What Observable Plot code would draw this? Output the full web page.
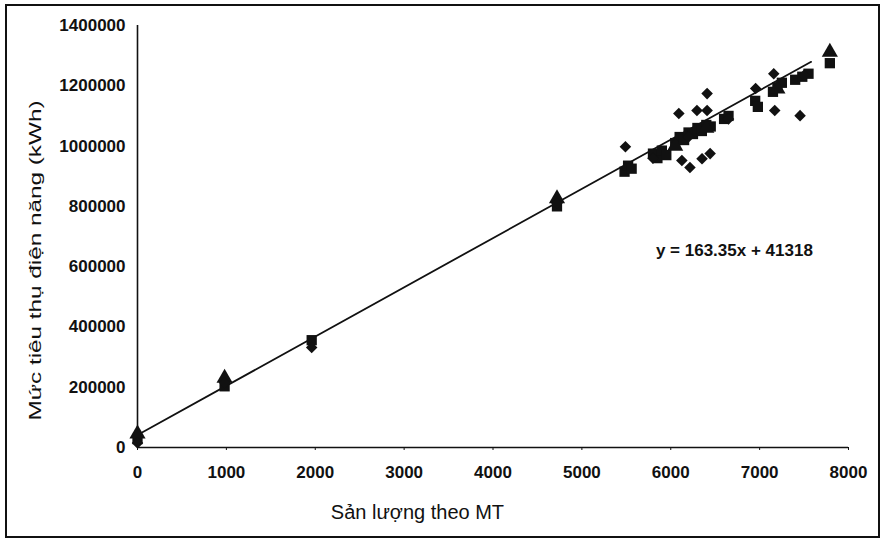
<!DOCTYPE html>
<html><head><meta charset="utf-8">
<script src="https://cdn.jsdelivr.net/npm/d3@7"></script>
<script src="https://cdn.jsdelivr.net/npm/@observablehq/plot@0.6"></script>
<style>
body{margin:0;background:#fff;}
#wrap{position:relative;width:885px;height:543px;}
#frame{position:absolute;left:5px;top:4px;width:871px;height:530px;border:2px solid #111;pointer-events:none;}
</style></head><body><div id="wrap"><div id="frame"></div></div>
<script>
const xTicks = [0,1000,2000,3000,4000,5000,6000,7000,8000];
const yTicks = [0,200000,400000,600000,800000,1000000,1200000,1400000];

const diamondX = [0, 980, 1960, 4720, 5490, 5800, 6091, 6125, 6200, 6216, 6295, 6352, 6409, 6409, 6443, 6650, 6955, 7159, 7170, 7455, 7500];
const diamondY = [15000, 215000, 332000, 810000, 998000, 960000, 1108000, 952000, 1030000, 929000, 1118000, 958000, 1174000, 1118000, 975000, 1090000, 1191000, 1240000, 1118000, 1101000, 1235000];

const squareX = [0, 980, 1960, 4720, 5480, 5520, 5560, 5800, 5850, 5900, 5950, 6050, 6100, 6150, 6200, 6250, 6300, 6350, 6400, 6450, 6600, 6650, 6950, 6980, 7150, 7200, 7250, 7400, 7480, 7550, 7790];
const squareY = [28000, 203000, 356000, 800000, 915000, 935000, 925000, 975000, 960000, 985000, 970000, 1010000, 1030000, 1020000, 1045000, 1040000, 1060000, 1050000, 1070000, 1065000, 1090000, 1100000, 1150000, 1130000, 1180000, 1195000, 1210000, 1220000, 1230000, 1240000, 1275000];

const triangleX = [0, 980, 4720, 6050, 6400, 7200, 7790];
const triangleY = [45000, 230000, 826000, 1000000, 1060000, 1190000, 1312000];

const slope = 163.35, intercept = 41318;
const trendX = [0, 7580];
const equationLabel = "y = 163.35x + 41318";
const xTitle = "Sản lượng theo MT";
const yTitle = "Mức tiêu thụ điện năng (kWh)";

const toRows = (xs, ys) => xs.map((x, i) => ({x, y: ys[i]}));
const diamonds = toRows(diamondX, diamondY);
const squares = toRows(squareX, squareY);
const triangles = toRows(triangleX, triangleY);
const trend = trendX.map(x => ({x, y: slope * x + intercept}));

const ink = "#111";
const chart = Plot.plot({
  width: 885, height: 543,
  marginLeft: 137, marginTop: 25, marginRight: 37, marginBottom: 96,
  style: {fontFamily: "'Liberation Sans', Arial, sans-serif", background: "transparent", color: ink},
  x: {domain: [0, 8000]},
  y: {domain: [0, 1400000]},
  marks: [
    Plot.axisX({ticks: xTicks, tickFormat: d => String(d), tickSize: 3, tickPadding: 15, fontSize: 17, fontWeight: "bold", label: null}),
    Plot.axisY({ticks: yTicks, tickFormat: d => String(d), tickSize: 0, tickPadding: 12, fontSize: 17, fontWeight: "bold", label: null}),
    Plot.ruleY([0], {stroke: ink, strokeWidth: 1.6}),
    Plot.ruleX([0], {stroke: ink, strokeWidth: 1.6}),
    Plot.line(trend, {x: "x", y: "y", stroke: ink, strokeWidth: 1.8}),
    Plot.dot(squares, {x: "x", y: "y", symbol: "square", r: 5.8, fill: ink, stroke: "none"}),
    Plot.dot(triangles, {x: "x", y: "y", symbol: "triangle", r: 6, fill: ink, stroke: "none"}),
    Plot.dot(diamonds, {x: "x", y: "y", symbol: "diamond2", r: 5.2, fill: ink, stroke: "none"}),
    Plot.text([equationLabel], {x: 6716, y: 653000, text: d => d, fontSize: 17, fontWeight: "bold", fill: ink}),
    Plot.text([xTitle], {x: 3150, frameAnchor: "bottom", dy: 65, lineAnchor: "middle", textAnchor: "middle", text: d => d, fontSize: 20, fill: ink}),
    Plot.text([yTitle], {frameAnchor: "left", dx: -102, dy: 24, rotate: -90, textAnchor: "middle", lineAnchor: "middle", text: d => d, fontSize: 16, fill: ink})
  ]
});
document.getElementById("wrap").prepend(chart);
d3.select(chart).selectAll("text").filter(function(){ return this.textContent === yTitle; })
  .attr("textLength", 320).attr("lengthAdjust", "spacingAndGlyphs");
</script>
</body></html>
